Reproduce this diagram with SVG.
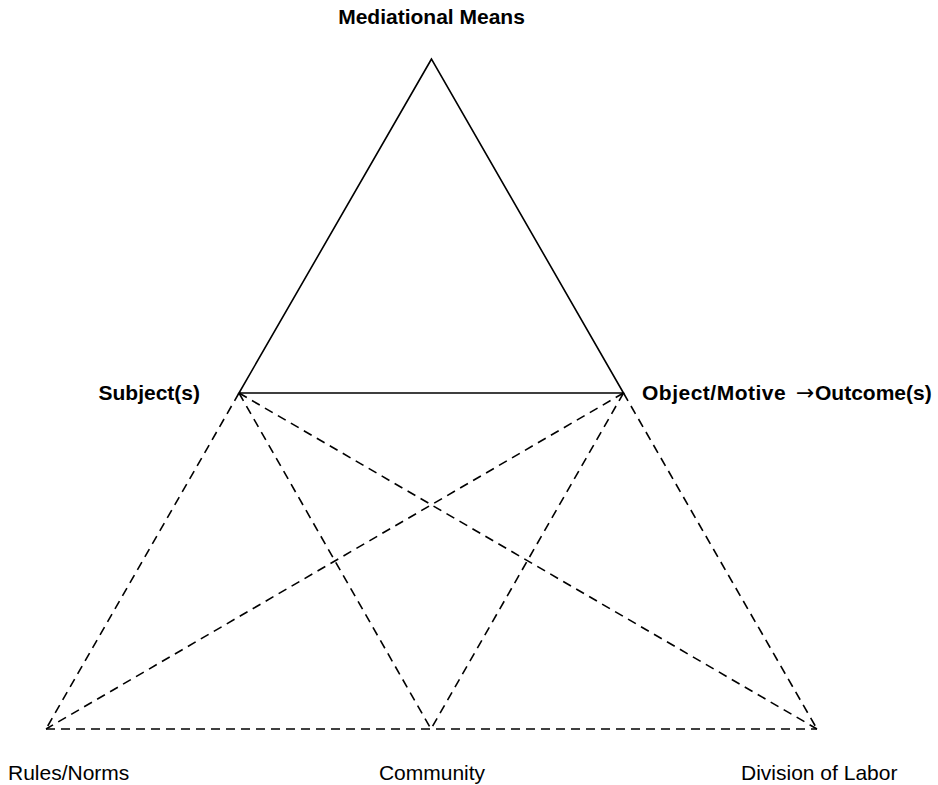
<svg xmlns="http://www.w3.org/2000/svg" width="938" height="785" viewBox="0 0 938 785">
<style>
.bg{fill:#ffffff}
.solid{fill:none;stroke:#000;stroke-width:1.6;stroke-linejoin:miter}
.dash{fill:none;stroke:#000;stroke-width:1.6;stroke-dasharray:9,6}
.lb{font-family:"Liberation Sans",Arial,Helvetica,sans-serif;font-size:21px;font-weight:bold;fill:#000}
.ln{font-family:"Liberation Sans",Arial,Helvetica,sans-serif;font-size:21px;fill:#000}
.arr{font-family:"DejaVu Sans",sans-serif;font-weight:normal;font-size:22px}
.sp{letter-spacing:0.5px}
</style>
<rect class="bg" x="0" y="0" width="938" height="785"/>
<g id="connectors">
<polygon class="solid" points="431.5,59 239,393 623.5,393"/>
<line class="dash" x1="239" y1="393" x2="46" y2="729"/>
<line class="dash" x1="239" y1="393" x2="431" y2="729"/>
<line class="dash" x1="239" y1="393" x2="817" y2="729"/>
<line class="dash" x1="623.5" y1="393" x2="46" y2="729"/>
<line class="dash" x1="623.5" y1="393" x2="431" y2="729"/>
<line class="dash" x1="623.5" y1="393" x2="817" y2="729"/>
<line class="dash" x1="46" y1="729" x2="817" y2="729"/>
</g>
<g id="mediational-means"><text class="lb" x="431.5" y="24" text-anchor="middle">Mediational Means</text></g>
<g id="subjects"><text class="lb" x="200" y="400" text-anchor="end">Subject(s)</text></g>
<g id="object-motive"><text class="lb" x="642" y="400"><tspan class="sp">Object/Motive</tspan> <tspan class="arr" x="796">→</tspan><tspan x="815">Outcome(s)</tspan></text></g>
<g id="rules-norms"><text class="ln" x="8" y="780">Rules/Norms</text></g>
<g id="community"><text class="ln" x="432" y="780" text-anchor="middle">Community</text></g>
<g id="division-of-labor"><text class="ln" x="741" y="780">Division of Labor</text></g>
</svg>
